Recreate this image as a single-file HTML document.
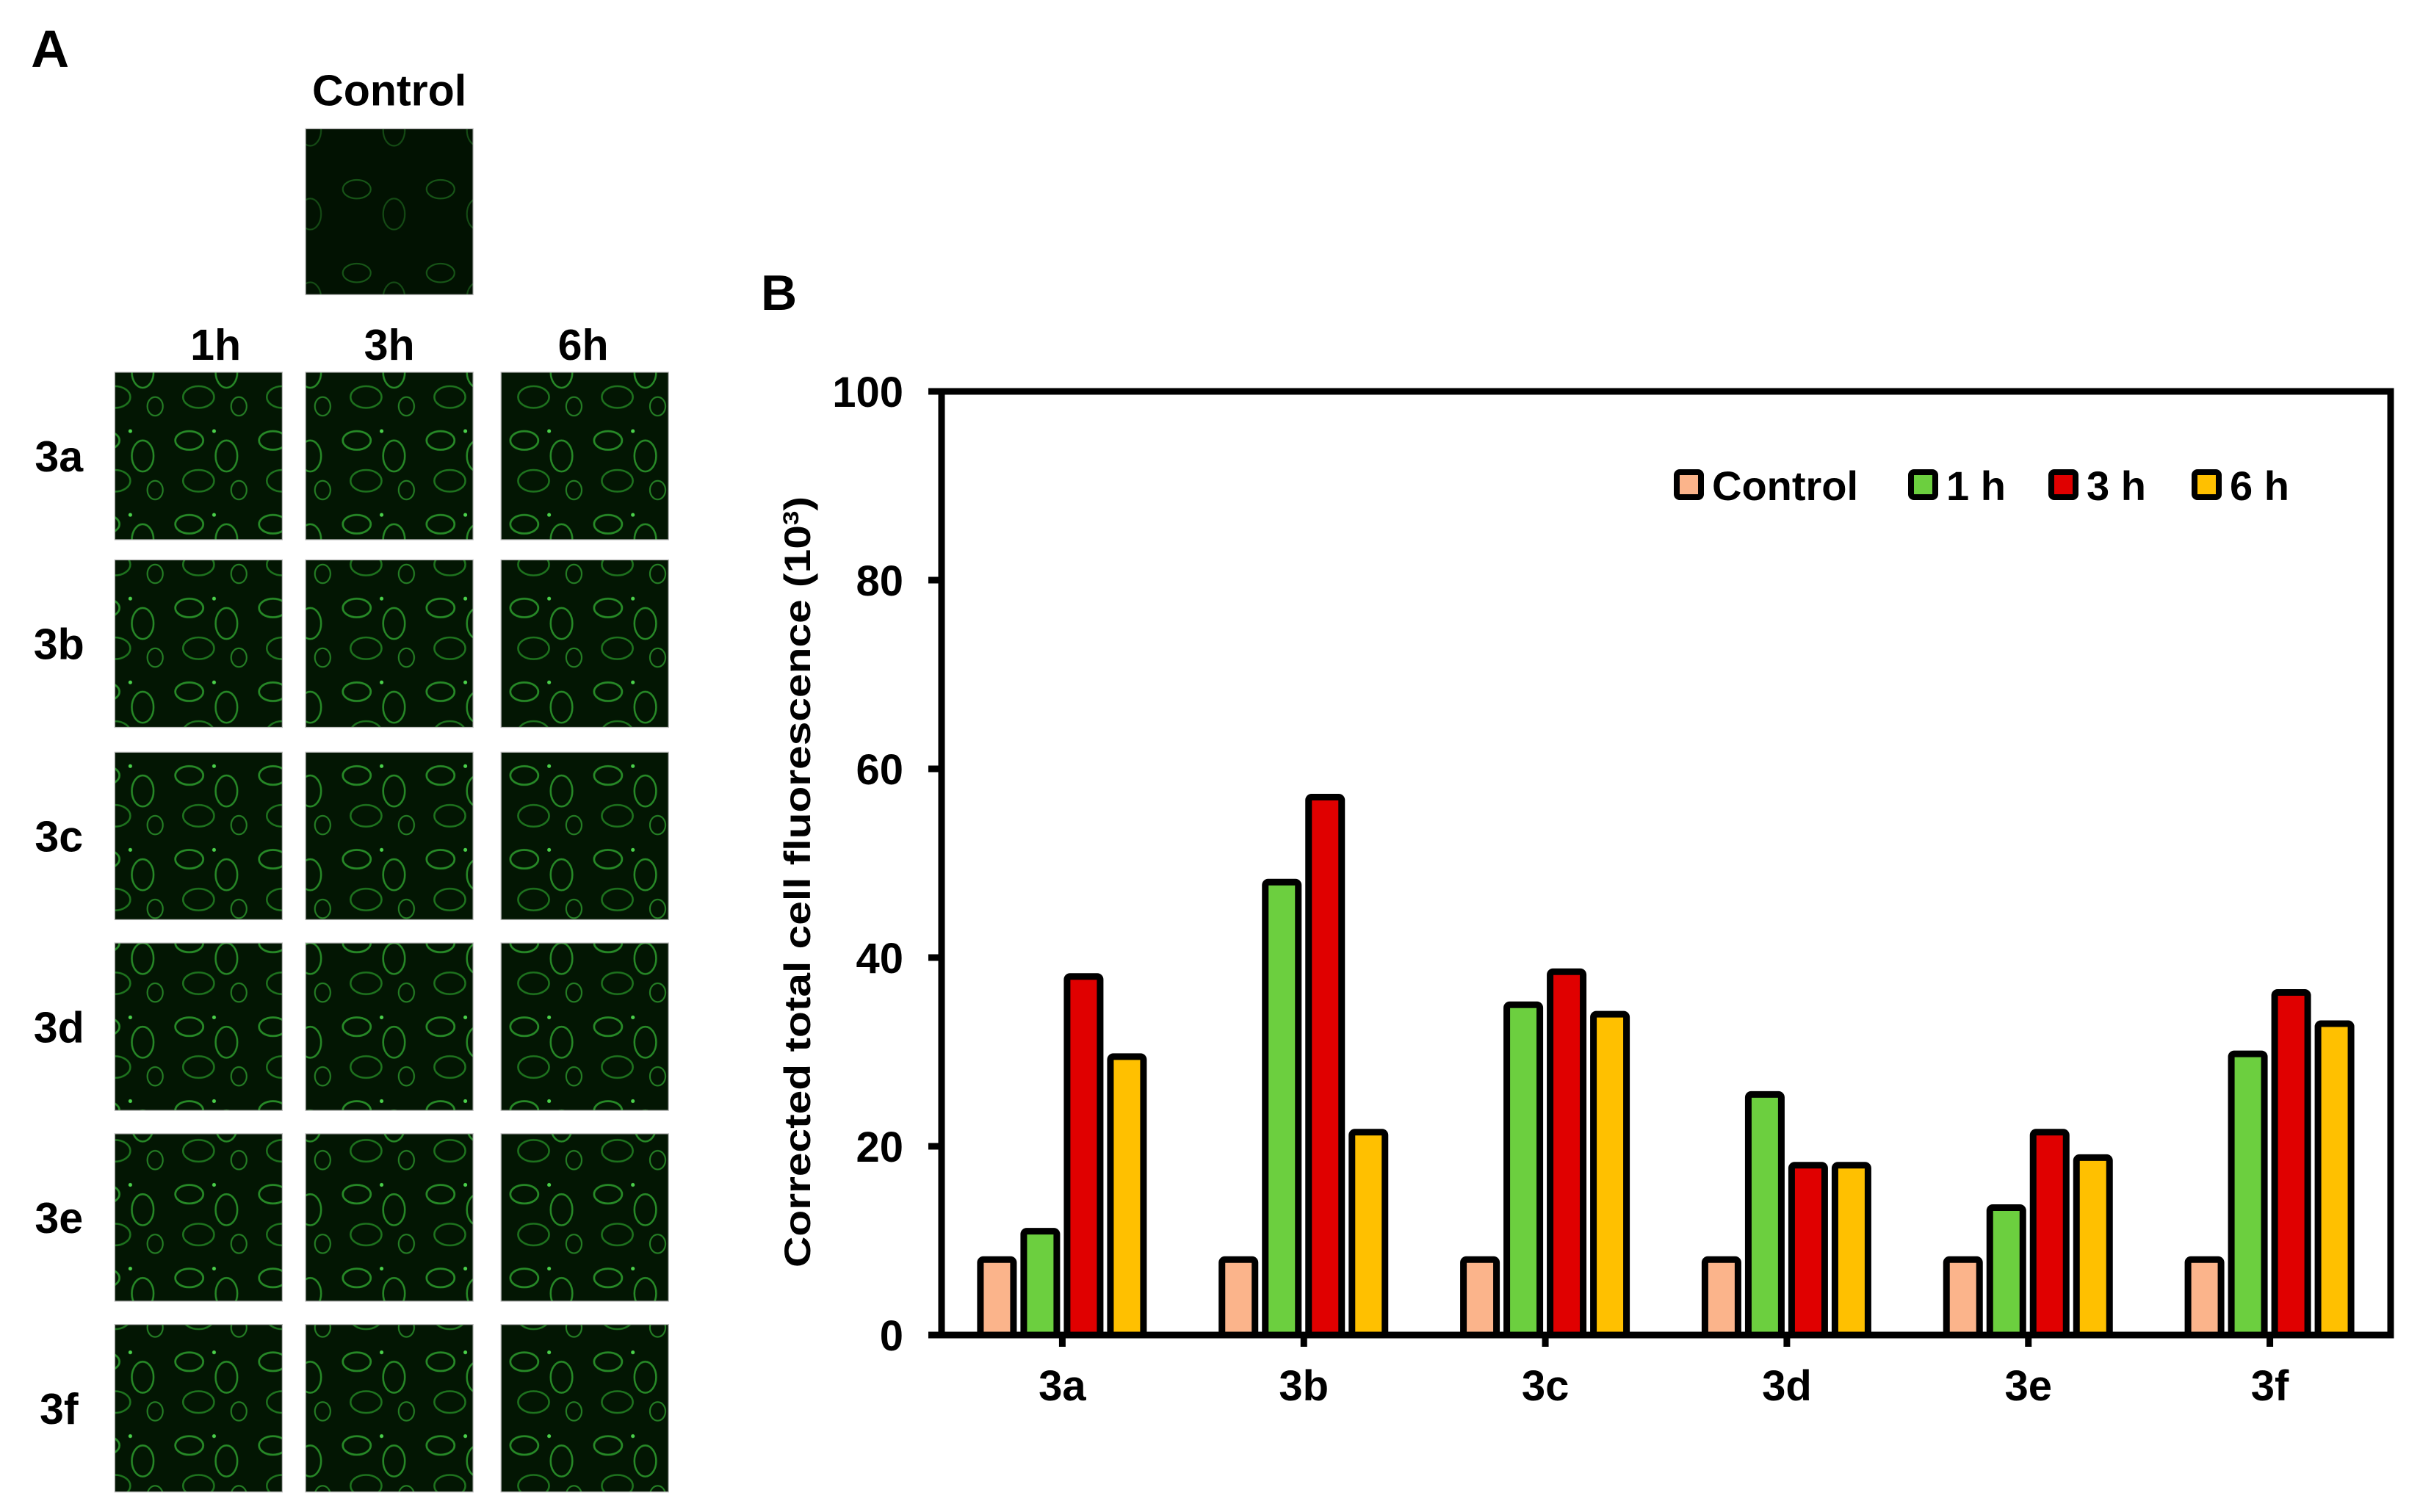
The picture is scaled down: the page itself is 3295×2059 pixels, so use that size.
<!DOCTYPE html>
<html><head><meta charset="utf-8"><style>
html,body{margin:0;padding:0;background:#fff;}
svg{display:block;font-family:"Liberation Sans",sans-serif;font-weight:bold;}
</style></head><body>
<svg id="fig" width="3295" height="2059" viewBox="0 0 3295 2059">
<defs>
<pattern id="cells" width="54" height="54" patternUnits="userSpaceOnUse">
<rect width="54" height="54" fill="#031603"/>
<ellipse cx="14" cy="14" rx="9" ry="6" fill="none" stroke="#2fa82f" stroke-width="1.3" opacity="0.8"/>
<ellipse cx="38" cy="24" rx="7" ry="10" fill="none" stroke="#36b936" stroke-width="1.2" opacity="0.7"/>
<ellipse cx="20" cy="40" rx="10" ry="7" fill="none" stroke="#2a9a2a" stroke-width="1.2" opacity="0.7"/>
<ellipse cx="46" cy="46" rx="5" ry="6" fill="none" stroke="#3cc43c" stroke-width="1" opacity="0.6"/>
<circle cx="30" cy="8" r="1.2" fill="#4ad04a"/>
</pattern>
<pattern id="cellsDim" width="54" height="54" patternUnits="userSpaceOnUse">
<rect width="54" height="54" fill="#021202"/>
<ellipse cx="14" cy="14" rx="9" ry="6" fill="none" stroke="#1d661d" stroke-width="1" opacity="0.8"/>
<ellipse cx="38" cy="30" rx="7" ry="10" fill="none" stroke="#1d661d" stroke-width="1" opacity="0.7"/>
</pattern>
</defs>
<g id="panelA" transform="scale(2.112)"></g>
<g id="panelB"></g>
</svg>
<script>
const categories = ["3a","3b","3c","3d","3e","3f"];
const controlVals = [8,8,8,8,8,8];
const h1Vals = [11,48,35,25.5,13.5,29.8];
const h3Vals = [38,57,38.5,18,21.5,36.3];
const h6Vals = [29.5,21.5,34,18,18.8,33];
const yTicks = [0,20,40,60,80,100];
const seriesNames = ["Control","1 h","3 h","6 h"];
const seriesColors = ["#fbb48b","#6ccf3f","#e00000","#ffc000"];

const NS="http://www.w3.org/2000/svg";
function mk(tag,attrs,parent,text){const e=document.createElementNS(NS,tag);for(const k in attrs)e.setAttribute(k,attrs[k]);if(text!==undefined)e.textContent=text;parent.appendChild(e);return e;}

// Panel A (thumbnail coordinates, scaled)
const A=document.getElementById('panelA');
let t=mk('text',{x:20,y:43,'font-size':34},A,'A');


t=mk('text',{x:251,y:68,'font-size':28,'text-anchor':'middle'},A,'Control');


let im=mk('rect',{x:197,y:83,width:108,height:107,fill:'url(#cellsDim)',stroke:'#bbb','stroke-width':0.6},A);


const colX=[74,197,323], colLab=["1h","3h","6h"], colLabX=[139,251,376];
const rowY=[240,361,485,608,731,854], rowLab=["3a","3b","3c","3d","3e","3f"];
colLab.forEach((c,i)=>{const e=mk('text',{x:colLabX[i],y:232,'font-size':28,'text-anchor':'middle'},A,c);

});
rowLab.forEach((r,j)=>{const e=mk('text',{x:38,y:rowY[j]+64,'font-size':28,'text-anchor':'middle'},A,r);


colX.forEach((x,i)=>{const g=mk('rect',{x:x,y:rowY[j],width:108,height:108,fill:'url(#cells)',stroke:'#bbb','stroke-width':0.6},A);

});});

// Panel B (full pixel coordinates)
const B=document.getElementById('panelB');
const L=1282,R=3255,T=533,Bt=1818;
const yS=v=>Bt-(v/100)*(Bt-T);
const groupW=(R-L)/categories.length;
const xC=i=>L+groupW*(i+0.5);
t=mk('text',{x:1036,y:422,'font-size':68},B,'B');


let fr=mk('rect',{x:L,y:T,width:R-L,height:Bt-T,fill:'none',stroke:'#000','stroke-width':9},B);


yTicks.forEach(v=>{mk('line',{x1:L-18,x2:L,y1:yS(v),y2:yS(v),stroke:'#000','stroke-width':9},B);
const e=mk('text',{x:1230,y:yS(v)+21,'font-size':58,'text-anchor':'end'},B,String(v));

});
const yt=mk('text',{transform:`translate(1103,1201) rotate(-90)`,'font-size':50,'text-anchor':'middle',textLength:1050,lengthAdjust:'spacingAndGlyphs'},B,'Corrected total cell fluorescence (10');
mk('tspan',{'baseline-shift':'super','font-size':30},yt,'3');
mk('tspan',{},yt,')');


const series=[controlVals,h1Vals,h3Vals,h6Vals];
const offs=[-116,-57,2,61], bw=54, sw=9;
categories.forEach((c,i)=>{
 mk('line',{x1:xC(i),x2:xC(i),y1:Bt,y2:Bt+16,stroke:'#000','stroke-width':9},B);
 const e=mk('text',{x:xC(i),y:1907,'font-size':58,'text-anchor':'middle'},B,c);
 
 
 series.forEach((s,k)=>{const x=xC(i)+offs[k]+sw/2;
  const r=mk('rect',{x:x,y:yS(s[i]),width:bw-sw,height:Bt-yS(s[i]),rx:4,fill:seriesColors[k],stroke:'#000','stroke-width':sw},B);
  
  });
});
const legX=[2279,2598,2789,2984];
seriesNames.forEach((n,k)=>{
 const g=mk('g',{},B);
 
 
 mk('rect',{x:legX[k]+4,y:643,width:33,height:34,rx:4,fill:seriesColors[k],stroke:'#000','stroke-width':8},g);
 mk('text',{x:legX[k]+52,y:681,'font-size':56},g,n);
});
</script>
</body></html>
